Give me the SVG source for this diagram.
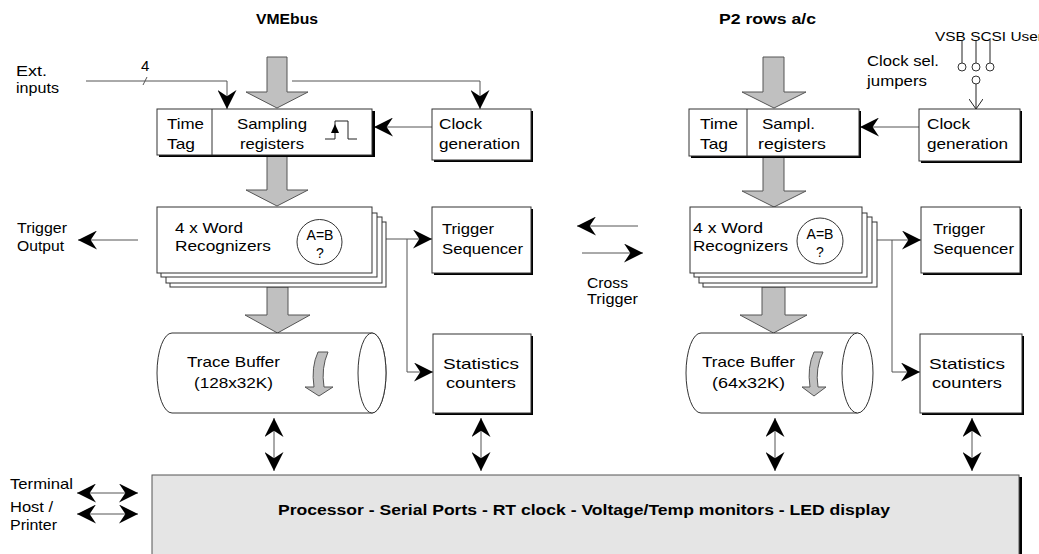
<svg xmlns="http://www.w3.org/2000/svg" width="1039" height="554" viewBox="0 0 1039 554">
  <style>
    text { font-family: "Liberation Sans", Arial, sans-serif; font-size: 15px; fill: #000; }
    .title { font-weight: bold; font-size: 14px; }
    .small { font-size: 12.5px; }
    .cmp { font-size: 14px; text-anchor: middle; }
    .box { fill: #fff; stroke: #333; stroke-width: 1; }
    .shadow { fill: #000; }
    .bus { fill: #c0c0c0; stroke: #555; stroke-width: 1; }
    .wire { fill: none; stroke: #555; stroke-width: 1; }
    .thin { fill: none; stroke: #222; stroke-width: 1; }
  </style>
  <defs>
    <marker id="head" viewBox="0 0 18 18" refX="18" refY="9" markerWidth="19" markerHeight="19" markerUnits="userSpaceOnUse" orient="auto-start-reverse">
      <path d="M0,0 L18,9 L0,18 L6,9 Z" fill="#000"/>
    </marker>
    <marker id="vee" viewBox="0 0 10 10" refX="10" refY="5" markerWidth="10" markerHeight="10" markerUnits="userSpaceOnUse" orient="auto">
      <path d="M0,0 L10,5 L0,10" fill="none" stroke="#222" stroke-width="1"/>
    </marker>
    <marker id="veeBig" viewBox="0 0 20 14" refX="10" refY="7" markerWidth="20" markerHeight="14" markerUnits="userSpaceOnUse" orient="auto">
      <path d="M0,0 L10,7 L0,14" fill="none" stroke="#222" stroke-width="1"/>
    </marker>
  </defs>

  <!-- bus labels -->
  <text class="title" x="256" y="24" textLength="62" lengthAdjust="spacingAndGlyphs">VMEbus</text>
  <text class="title" x="719" y="24" textLength="97" lengthAdjust="spacingAndGlyphs">P2 rows a/c</text>

  <!-- wide data-path arrows -->
  <g id="buses">
    <path class="bus" d="M267,57 H287 V92 H308 L277,108 L246,92 H267 Z"/>
    <path class="bus" d="M267,156 H287 V190 H308 L277,206 L246,190 H267 Z"/>
    <path class="bus" d="M267,287 H288 V315 H310 L277.5,333 L245,315 H267 Z"/>
    <path class="bus" d="M763,57 H784 V92 H806 L774,108 L742,92 H763 Z"/>
    <path class="bus" d="M763,156 H784 V191 H806 L774,207 L742,191 H763 Z"/>
    <path class="bus" d="M762,287 H785 V315 H807 L773.5,333 L740,315 H762 Z"/>
  </g>

  <!-- connectors -->
  <g id="connectors">
    <!-- external inputs, 4 lines -->
    <polyline class="wire" points="86,81 227,81 227,109" marker-end="url(#head)"/>
    <line class="wire" x1="143" y1="85" x2="147" y2="77"/>
    <!-- bus tap to clock generation -->
    <polyline class="wire" points="292,81 480,81 480,109" marker-end="url(#head)"/>
    <!-- clock to sampling registers -->
    <line class="wire" x1="432" y1="127" x2="374" y2="127" marker-end="url(#head)"/>
    <line class="wire" x1="919" y1="127" x2="860" y2="127" marker-end="url(#head)"/>
    <!-- trigger output -->
    <line class="wire" x1="138" y1="240" x2="78" y2="240" marker-end="url(#head)"/>
    <!-- word recognizers to trigger sequencer and statistics -->
    <line class="wire" x1="386" y1="239" x2="432" y2="239" marker-end="url(#head)"/>
    <polyline class="wire" points="407,239 407,372 433,372" marker-end="url(#head)"/>
    <line class="wire" x1="877" y1="240" x2="921" y2="240" marker-end="url(#head)"/>
    <polyline class="wire" points="892,240 892,372 920,372" marker-end="url(#head)"/>
    <!-- cross trigger -->
    <line class="wire" x1="638" y1="226" x2="577" y2="226" marker-end="url(#head)"/>
    <line class="wire" x1="582" y1="253" x2="643" y2="253" marker-end="url(#head)"/>
    <!-- links to processor -->
    <line class="wire" x1="274" y1="418" x2="274" y2="471" marker-start="url(#head)" marker-end="url(#head)"/>
    <line class="wire" x1="481" y1="418" x2="481" y2="471" marker-start="url(#head)" marker-end="url(#head)"/>
    <line class="wire" x1="775" y1="418" x2="775" y2="471" marker-start="url(#head)" marker-end="url(#head)"/>
    <line class="wire" x1="972" y1="418" x2="972" y2="471" marker-start="url(#head)" marker-end="url(#head)"/>
    <!-- serial ports -->
    <line class="wire" x1="77" y1="493" x2="138" y2="493" marker-start="url(#head)" marker-end="url(#head)"/>
    <line class="wire" x1="77" y1="514" x2="138" y2="514" marker-start="url(#head)" marker-end="url(#head)"/>
    <!-- comparator inputs -->
    <line class="thin" x1="283" y1="240" x2="297" y2="240" marker-end="url(#vee)"/>
    <line class="thin" x1="357" y1="240" x2="342" y2="240" marker-end="url(#vee)"/>
    <line class="thin" x1="783" y1="240" x2="797" y2="240" marker-end="url(#vee)"/>
    <line class="thin" x1="858" y1="240" x2="843" y2="240" marker-end="url(#vee)"/>
    <!-- clock select jumper to clock generation -->
    <line class="thin" x1="976" y1="84" x2="976" y2="109" marker-end="url(#veeBig)"/>
  </g>

  <!-- side labels -->
  <text x="16" y="76" textLength="31" lengthAdjust="spacingAndGlyphs">Ext.</text>
  <text x="16" y="93" textLength="43" lengthAdjust="spacingAndGlyphs">inputs</text>
  <text x="141" y="71">4</text>
  <text x="17" y="233" textLength="50" lengthAdjust="spacingAndGlyphs">Trigger</text>
  <text x="17" y="251" textLength="47" lengthAdjust="spacingAndGlyphs">Output</text>
  <text x="587" y="288" textLength="41" lengthAdjust="spacingAndGlyphs">Cross</text>
  <text x="587" y="304" textLength="51" lengthAdjust="spacingAndGlyphs">Trigger</text>
  <text x="10" y="489" textLength="63" lengthAdjust="spacingAndGlyphs">Terminal</text>
  <text x="10" y="512" textLength="43" lengthAdjust="spacingAndGlyphs">Host /</text>
  <text x="10" y="530" textLength="47" lengthAdjust="spacingAndGlyphs">Printer</text>

  <!-- left channel (VMEbus) -->
  <g id="sampling-left">
    <rect class="shadow" x="159" y="111" width="216" height="46"/>
    <rect class="box" x="157" y="109" width="215" height="46"/>
    <line class="box" x1="212" y1="109" x2="212" y2="155"/>
    <text x="167" y="129" textLength="37" lengthAdjust="spacingAndGlyphs">Time</text>
    <text x="167" y="149" textLength="28" lengthAdjust="spacingAndGlyphs">Tag</text>
    <text x="237" y="129" textLength="70" lengthAdjust="spacingAndGlyphs">Sampling</text>
    <text x="240" y="149" textLength="64" lengthAdjust="spacingAndGlyphs">registers</text>
    <polyline class="thin" points="325,139 335,139 335,121 348,121 348,139 357,139"/>
    <path d="M335,124 L331,133 L339,133 Z" fill="#000"/>
  </g>

  <g id="clock-left">
    <rect class="shadow" x="434" y="111" width="99" height="51"/>
    <rect class="box" x="432" y="109" width="99" height="51"/>
    <text x="439" y="129" textLength="43" lengthAdjust="spacingAndGlyphs">Clock</text>
    <text x="439" y="149" textLength="81" lengthAdjust="spacingAndGlyphs">generation</text>
  </g>

  <g id="recognizers-left">
    <rect class="box" x="170" y="222" width="216" height="65"/>
    <rect class="box" x="166" y="217" width="216" height="66"/>
    <rect class="box" x="161" y="213" width="216" height="64"/>
    <rect class="box" x="157" y="207" width="215" height="66"/>
    <text x="175" y="233" textLength="68" lengthAdjust="spacingAndGlyphs">4 x Word</text>
    <text x="175" y="251" textLength="96" lengthAdjust="spacingAndGlyphs">Recognizers</text>
    <circle class="box" cx="319.5" cy="242" r="22.5"/>
    <text class="cmp" x="320" y="240" textLength="27" lengthAdjust="spacingAndGlyphs">A=B</text>
    <text class="cmp" x="320" y="258">?</text>
  </g>

  <g id="sequencer-left">
    <rect class="shadow" x="434" y="209" width="99" height="66"/>
    <rect class="box" x="432" y="207" width="99" height="66"/>
    <text x="442" y="234" textLength="52" lengthAdjust="spacingAndGlyphs">Trigger</text>
    <text x="442" y="254" textLength="81" lengthAdjust="spacingAndGlyphs">Sequencer</text>
  </g>

  <g id="trace-left">
    <path class="box" d="M172,333 H372 A14,40 0 0 1 372,413 H172 A15,40 0 0 1 172,333 Z"/>
    <ellipse class="box" cx="372" cy="373" rx="14" ry="40"/>
    <text x="187" y="367" textLength="93" lengthAdjust="spacingAndGlyphs">Trace Buffer</text>
    <text x="194" y="388" textLength="79" lengthAdjust="spacingAndGlyphs">(128x32K)</text>
    <path class="bus" d="M318,352 L328,352 Q321,368 324,387 L333,387 L319,396 L305,387 L314,387 Q311,367 318,352 Z"/>
  </g>

  <g id="stats-left">
    <rect class="shadow" x="435" y="336" width="98" height="79"/>
    <rect class="box" x="433" y="334" width="98" height="79"/>
    <text x="443" y="369" textLength="76" lengthAdjust="spacingAndGlyphs">Statistics</text>
    <text x="446" y="388" textLength="70" lengthAdjust="spacingAndGlyphs">counters</text>
  </g>

  <!-- right channel (P2 rows a/c) -->
  <g id="sampling-right">
    <rect class="shadow" x="691" y="111" width="170" height="47"/>
    <rect class="box" x="689" y="109" width="170" height="47"/>
    <line class="box" x1="747" y1="109" x2="747" y2="156"/>
    <text x="700" y="129" textLength="38" lengthAdjust="spacingAndGlyphs">Time</text>
    <text x="700" y="149" textLength="28" lengthAdjust="spacingAndGlyphs">Tag</text>
    <text x="762" y="129" textLength="53" lengthAdjust="spacingAndGlyphs">Sampl.</text>
    <text x="758" y="149" textLength="68" lengthAdjust="spacingAndGlyphs">registers</text>
  </g>

  <g id="clock-right">
    <rect class="shadow" x="921" y="111" width="101" height="52"/>
    <rect class="box" x="919" y="109" width="101" height="52"/>
    <text x="927" y="129" textLength="43" lengthAdjust="spacingAndGlyphs">Clock</text>
    <text x="927" y="149" textLength="81" lengthAdjust="spacingAndGlyphs">generation</text>
  </g>

  <g id="clock-jumpers">
    <text x="867" y="66" textLength="72" lengthAdjust="spacingAndGlyphs">Clock sel.</text>
    <text x="867" y="86" textLength="60" lengthAdjust="spacingAndGlyphs">jumpers</text>
    <text class="small" x="935" y="41" textLength="108" lengthAdjust="spacingAndGlyphs">VSB SCSI User</text>
    <line class="thin" x1="962" y1="40" x2="962" y2="63"/>
    <line class="thin" x1="976" y1="40" x2="976" y2="63"/>
    <line class="thin" x1="990" y1="40" x2="990" y2="63"/>
    <circle class="box" cx="962" cy="67" r="4"/>
    <circle class="box" cx="976" cy="67" r="4"/>
    <circle class="box" cx="990" cy="67" r="4"/>
    <circle class="box" cx="976" cy="80" r="4"/>
  </g>

  <g id="recognizers-right">
    <rect class="box" x="703" y="222" width="174" height="65"/>
    <rect class="box" x="699" y="217" width="173" height="66"/>
    <rect class="box" x="694" y="213" width="173" height="64"/>
    <rect class="box" x="690" y="207" width="172" height="66"/>
    <text x="693" y="233" textLength="70" lengthAdjust="spacingAndGlyphs">4 x Word</text>
    <text x="693" y="251" textLength="95" lengthAdjust="spacingAndGlyphs">Recognizers</text>
    <circle class="box" cx="820" cy="241" r="23"/>
    <text class="cmp" x="820" y="239" textLength="27" lengthAdjust="spacingAndGlyphs">A=B</text>
    <text class="cmp" x="820" y="257">?</text>
  </g>

  <g id="sequencer-right">
    <rect class="shadow" x="923" y="209" width="99" height="66"/>
    <rect class="box" x="921" y="207" width="99" height="66"/>
    <text x="933" y="234" textLength="52" lengthAdjust="spacingAndGlyphs">Trigger</text>
    <text x="933" y="254" textLength="81" lengthAdjust="spacingAndGlyphs">Sequencer</text>
  </g>

  <g id="trace-right">
    <path class="box" d="M701,333 H857 A15,40 0 0 1 857,413 H701 A15,40 0 0 1 701,333 Z"/>
    <ellipse class="box" cx="857.5" cy="373" rx="15.5" ry="40"/>
    <text x="702" y="367" textLength="93" lengthAdjust="spacingAndGlyphs">Trace Buffer</text>
    <text x="712" y="388" textLength="73" lengthAdjust="spacingAndGlyphs">(64x32K)</text>
    <path class="bus" d="M814,352 L823,352 Q815,368 818,387 L826,387 L814,396 L802,387 L810,387 Q807,367 814,352 Z"/>
  </g>

  <g id="stats-right">
    <rect class="shadow" x="922" y="336" width="102" height="79"/>
    <rect class="box" x="920" y="334" width="102" height="79"/>
    <text x="929" y="369" textLength="76" lengthAdjust="spacingAndGlyphs">Statistics</text>
    <text x="932" y="388" textLength="70" lengthAdjust="spacingAndGlyphs">counters</text>
  </g>

  <!-- shared processor board -->
  <g id="processor">
    <rect class="shadow" x="154" y="477" width="868" height="80"/>
    <rect x="152" y="475" width="867" height="80" fill="#e5e5e5" stroke="#555" stroke-width="1"/>
    <text class="title" x="278" y="515" textLength="612" lengthAdjust="spacingAndGlyphs">Processor - Serial Ports - RT clock - Voltage/Temp monitors - LED display</text>
  </g>
</svg>
